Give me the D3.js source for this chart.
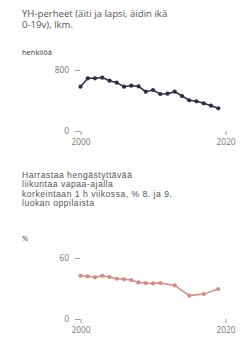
<!doctype html>
<html>
<head>
  <meta charset='utf-8'>
  <style>
    body { margin: 0; background: #fff; }
    svg { display: block; font-family: 'Open Sans', sans-serif; }
    .title { fill: #555; font-size: 9.6px; }
    .title.small { font-family: 'Liberation Sans', sans-serif; font-size: 8.6px; letter-spacing: 0.5px; }
    .unit { fill: #333; font-size: 7.5px; }
    .axis text { fill: #777; font-size: 8.3px; font-family: 'Open Sans', sans-serif; }
    .axis line { stroke: #888; stroke-width: 0.8; }
  </style>
</head>
<body>
  <svg width='242' height='347'></svg>
  <script src='https://d3js.org/d3.v7.min.js'></script>
  <script>
    // YH-perheet, henkilöä
    var years1 = [2000, 2001, 2002, 2003, 2004, 2005, 2006, 2007, 2008, 2009,
                  2010, 2011, 2012, 2013, 2014, 2015, 2016, 2017, 2018, 2019];
    var families = [581, 691, 691, 700, 660, 634, 581, 594, 586, 516,
                    538, 485, 489, 516, 459, 403, 389, 363, 332, 298];

    // hengästyttävä liikunta max 1 h / vko, %
    var years2 = [2000, 2001, 2002, 2003, 2004, 2005, 2006, 2007, 2008, 2009,
                  2010, 2011, 2013, 2015, 2017, 2019];
    var exercise = [42.5, 42, 41, 42.5, 41.3, 39.6, 39, 38.3, 36, 35.3,
                    35, 35.3, 33, 23, 24.5, 29.5];

    var yearTicks = [2000, 2020];
    var ticks1 = [0, 800];
    var ticks2 = [0, 60];

    var svg = d3.select('svg');

    var x = d3.scaleLinear().domain([2000, 2020]).range([80.5, 225.5]);

    function lines(sel, arr, y0, lh, cls) {
      arr.forEach(function(t, i) {
        sel.append('text').attr('class', 'title ' + cls)
           .attr('x', 22).attr('y', y0 + i * lh).text(t);
      });
    }

    function chart(opts) {
      var y = d3.scaleLinear().domain(opts.domain).range(opts.range);
      var g = svg.append('g');

      lines(g, opts.title, opts.titleY, opts.lh, opts.cls);
      g.append('text').attr('class', 'unit')
       .attr('x', 22).attr('y', opts.unitY).text(opts.unit);

      g.append('g').attr('class', 'axis')
       .attr('transform', 'translate(80,0)')
       .call(d3.axisLeft(y).tickValues(opts.ticks).tickSize(5).tickPadding(6)
               .tickFormat(d3.format('d')))
       .call(function(a) { a.select('.domain').remove(); });

      g.append('g').attr('class', 'axis')
       .attr('transform', 'translate(0,' + opts.range[0] + ')')
       .call(d3.axisBottom(x).tickValues(yearTicks).tickSize(4).tickPadding(4)
               .tickFormat(d3.format('d')))
       .call(function(a) { a.select('.domain').remove(); });

      var data = opts.years.map(function(d, i) { return [d, opts.values[i]]; });

      g.append('path')
       .datum(data)
       .attr('fill', 'none')
       .attr('stroke', opts.color)
       .attr('stroke-width', 1.5)
       .attr('d', d3.line()
                    .x(function(d) { return x(d[0]); })
                    .y(function(d) { return y(d[1]); }));

      g.selectAll('.dot')
       .data(data)
       .enter().append('circle')
       .attr('class', 'dot')
       .attr('cx', function(d) { return x(d[0]); })
       .attr('cy', function(d) { return y(d[1]); })
       .attr('r', 2.1)
       .attr('fill', opts.color);
    }

    chart({
      title: ['YH-perheet (äiti ja lapsi, äidin ikä', '0-19v), lkm.'],
      titleY: 16.5, lh: 11.8, cls: '',
      unit: 'henkilöä', unitY: 55,
      domain: [0, 800], range: [131, 70],
      ticks: ticks1,
      years: years1, values: families,
      color: '#2e2c4f'
    });

    chart({
      title: ['Harrastaa hengästyttävää', 'liikuntaa vapaa-ajalla',
              'korkeintaan 1 h viikossa, % 8. ja 9.', 'luokan oppilaista'],
      titleY: 177.5, lh: 9.6, cls: 'small',
      unit: '%', unitY: 240.5,
      domain: [0, 60], range: [319, 258],
      ticks: ticks2,
      years: years2, values: exercise,
      color: '#d98a80'
    });
  </script>
</body>
</html>
